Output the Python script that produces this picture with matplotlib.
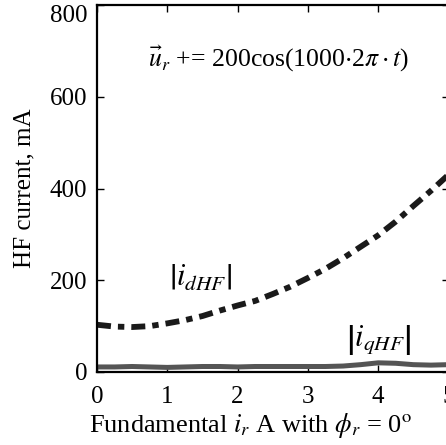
import matplotlib
matplotlib.use("Agg")
import matplotlib.pyplot as plt

plt.rcParams['font.family'] = ['Liberation Serif', 'DejaVu Serif']
plt.rcParams['mathtext.fontset'] = 'stix'

# fundamental current (A)
current = [0, 0.25, 0.5, 0.75, 1.0, 1.25, 1.5, 1.75, 2.0, 2.25, 2.5,
           2.75, 3.0, 3.25, 3.5, 3.75, 4.0, 4.25, 4.5, 4.75, 5.0]
# |i_dHF| (mA)
i_dhf = [103, 99, 98, 100, 106, 113, 122, 134, 145, 155, 170,
         186, 205, 225, 248, 273, 298, 328, 362, 395, 430]
# |i_qHF| (mA)
i_qhf = [11, 11, 12, 11, 10, 11, 12, 12, 11, 12, 12,
         12, 12, 12, 13, 16, 20, 19, 16, 15, 16]

xticks = [0, 1, 2, 3, 4, 5]
yticks = [0, 200, 400, 600, 800]

fig = plt.figure(figsize=(4.46, 4.45), dpi=100)
ax = fig.add_axes([97 / 446, 73 / 445, 351.5 / 446, 367 / 445])

ax.plot(current, i_qhf, color='#555555', lw=3.6, solid_capstyle='butt')
ax.plot(current, i_dhf, color='#1a1a1a', lw=4.2,
        linestyle=(0, (2.4, 1.2, 1.1, 1.2)), dash_capstyle='butt')

ax.set_xlim(0, 5)
ax.set_ylim(0, 800)
ax.set_xticks(xticks)
ax.set_yticks(yticks)
ax.tick_params(direction='in', length=5, width=1, labelsize=18,
               top=True, right=True)
ax.tick_params(axis='x', pad=10)
ax.tick_params(axis='y', pad=7)
for s in ax.spines.values():
    s.set_linewidth(1.6)
# top label sits inside the picture, under the tick
ax.get_yticklabels()[-1].set_va('top')

ax.text(0.73, 682, r'$\vec{u}_r$ += 200cos(1000$\cdot$2$\pi\cdot t$)',
        fontsize=18.5, va='center', ha='left')
ax.text(1.47, 205, r'$\left|i_{dHF}\right|$', fontsize=22, ha='center', va='center')
ax.text(4.01, 70, r'$\left|i_{qHF}\right|$', fontsize=22, ha='center', va='center')

fig.text(250 / 446, 1 - 426 / 445,
         r'Fundamental $i_r$ A with $\phi_r$ = 0$^{\rm o}$',
         fontsize=19, ha='center', va='center')
fig.text(24 / 446, (445 - 188) / 445,
         'HF current, mA', fontsize=18, rotation=90, ha='center', va='center')

fig.savefig('out.png', dpi=100)
